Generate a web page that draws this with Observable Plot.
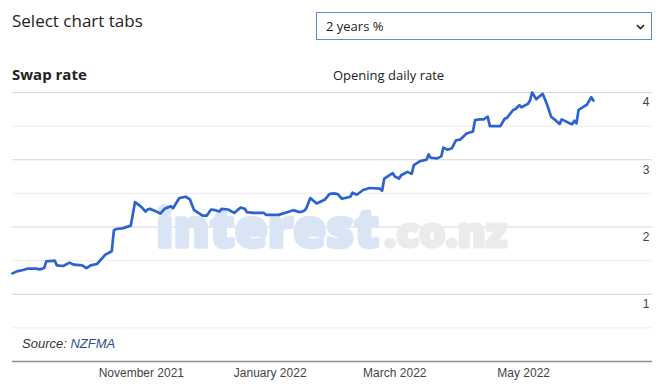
<!DOCTYPE html>
<html>
<head>
<meta charset="utf-8">
<script src="https://cdn.jsdelivr.net/npm/d3@7"></script>
<script src="https://cdn.jsdelivr.net/npm/@observablehq/plot@0.6"></script>
<style>
  body { margin: 0; background: #fff; }
  #wrap { position: relative; width: 662px; height: 390px; overflow: hidden; font-family: "Open Sans", sans-serif; color: #222; }
  #title { position: absolute; left: 12px; top: 9px; font-size: 17px; line-height: 24px; white-space: nowrap; }
  #select { position: absolute; left: 316px; top: 12px; width: 336px; height: 28px; box-sizing: border-box; border: 1px solid #5a8ad6; background: #fff; }
  #select span { position: absolute; left: 9px; top: 5px; font-size: 13px; line-height: 16px; color: #222; }
  #select svg { position: absolute; right: 6px; top: 11px; }
  #sub1 { position: absolute; left: 12px; top: 64px; font-size: 15px; font-weight: 700; line-height: 20px; white-space: nowrap; }
  #sub2 { position: absolute; left: 333px; top: 65px; font-size: 13px; line-height: 20px; white-space: nowrap; }
  #chart { position: absolute; left: 0; top: 84px; }
  #source { position: absolute; left: 22px; top: 335px; font-family: "Liberation Sans", Arial, sans-serif; font-style: italic; font-size: 13px; line-height: 18px; color: #333; }
  #source b { font-weight: normal; color: #2c4f8c; }
  .wm { text-anchor: start; font-family: "Open Sans", sans-serif; font-weight: 800; stroke-linejoin: round; paint-order: stroke; }
</style>
</head>
<body>
<div id="wrap">
  <div id="title">Select chart tabs</div>
  <div id="select"><span>2 years %</span><svg width="9" height="6"><path d="M1 1 L4.5 4.5 L8 1" fill="none" stroke="#222" stroke-width="1.6"/></svg></div>
  <div id="sub1">Swap rate</div>
  <div id="sub2">Opening daily rate</div>
  <div id="chart"></div>
  <div id="source">Source: <b>NZFMA</b></div>
</div>
<script>
// ---- data ----
const dates = [
  "2021-09-01","2021-09-03","2021-09-06","2021-09-08","2021-09-12","2021-09-14","2021-09-16","2021-09-17","2021-09-21","2021-09-22","2021-09-25","2021-09-28","2021-09-30",
  "2021-10-04","2021-10-06","2021-10-08","2021-10-11","2021-10-15","2021-10-18","2021-10-19","2021-10-20","2021-10-23","2021-10-27","2021-10-29",
  "2021-11-01","2021-11-03","2021-11-04","2021-11-05","2021-11-08","2021-11-10","2021-11-12","2021-11-15","2021-11-16","2021-11-19","2021-11-22","2021-11-24","2021-11-26","2021-11-28","2021-11-30",
  "2021-12-02","2021-12-04","2021-12-06","2021-12-08","2021-12-09","2021-12-12","2021-12-15","2021-12-18","2021-12-20","2021-12-21","2021-12-24","2021-12-29","2021-12-30",
  "2022-01-05","2022-01-09","2022-01-12","2022-01-13","2022-01-15","2022-01-17","2022-01-18","2022-01-20","2022-01-23","2022-01-27","2022-01-29","2022-01-31",
  "2022-02-02","2022-02-04","2022-02-08","2022-02-09","2022-02-11","2022-02-14","2022-02-17","2022-02-22","2022-02-23","2022-02-24","2022-02-28",
  "2022-03-01","2022-03-03","2022-03-04","2022-03-07","2022-03-09","2022-03-10","2022-03-13","2022-03-16","2022-03-17","2022-03-18","2022-03-21","2022-03-23","2022-03-24","2022-03-26","2022-03-28","2022-03-30",
  "2022-04-01","2022-04-04","2022-04-07","2022-04-08","2022-04-10","2022-04-12","2022-04-14","2022-04-15","2022-04-20","2022-04-22","2022-04-23","2022-04-26","2022-04-27","2022-04-29","2022-04-30",
  "2022-05-03","2022-05-04","2022-05-05","2022-05-07","2022-05-08","2022-05-10","2022-05-12","2022-05-14","2022-05-16","2022-05-18","2022-05-19","2022-05-23","2022-05-24","2022-05-25","2022-05-26","2022-05-27","2022-05-30","2022-05-31",
  "2022-06-02","2022-06-03"
];
const swapRate = [
  1.31,1.34,1.36,1.38,1.38,1.37,1.39,1.49,1.50,1.43,1.42,1.47,1.44,
  1.43,1.39,1.43,1.45,1.59,1.64,1.95,1.97,1.98,2.02,2.37,
  2.30,2.23,2.26,2.27,2.23,2.20,2.27,2.31,2.28,2.43,2.45,2.41,2.25,2.21,2.17,
  2.17,2.26,2.25,2.23,2.27,2.26,2.21,2.29,2.27,2.22,2.21,2.21,2.18,
  2.18,2.22,2.25,2.24,2.22,2.24,2.27,2.43,2.35,2.41,2.49,2.50,
  2.49,2.42,2.45,2.51,2.48,2.55,2.58,2.57,2.54,2.72,2.80,
  2.75,2.72,2.77,2.82,2.79,2.92,2.98,3.00,3.08,3.03,3.02,3.05,3.18,3.15,3.17,3.29,
  3.30,3.39,3.42,3.59,3.60,3.60,3.64,3.50,3.50,3.61,3.62,3.74,3.75,3.81,3.78,
  3.83,3.88,4.00,3.90,3.93,3.98,3.83,3.64,3.59,3.53,3.60,3.54,3.53,3.58,3.54,3.74,3.80,3.82,
  3.93,3.88
];
const xDomain = ["2021-09-01", "2022-07-01"];
const xTickDates = ["2021-11-01", "2022-01-01", "2022-03-01", "2022-05-01"];
const xTickLabels = ["November 2021", "January 2022", "March 2022", "May 2022"];
const yTickValues = [1, 2, 3, 4];
const yTickLabels = ["1", "2", "3", "4"];
const yMinorGrid = [0.5, 1.5, 2.5, 3.5];
const yDomain = [0, 4];

// ---- build ----
const parse = d3.utcParse("%Y-%m-%d");
const data = dates.map((d, i) => ({date: parse(d), value: swapRate[i]}));
const xTicks = xTickDates.map(parse);

const chart = Plot.plot({
  width: 662,
  height: 306,
  marginTop: 8,
  marginBottom: 29,
  marginLeft: 12,
  marginRight: 10,
  style: {fontFamily: "'Liberation Sans', Arial, sans-serif", fontSize: "12px", color: "#444", background: "transparent"},
  x: {type: "utc", domain: xDomain.map(parse), label: null},
  y: {domain: yDomain, axis: null},
  marks: [
    Plot.ruleY(yMinorGrid, {stroke: "#ededed", strokeWidth: 1}),
    Plot.ruleY(yTickValues, {stroke: "#d6d6d6", strokeWidth: 1}),
    Plot.ruleY([0], {stroke: "#8f8f8f", strokeWidth: 1.6}),
    Plot.line(data, {x: "date", y: "value", stroke: "#2c63cf", strokeWidth: 2.7, strokeLinejoin: "round"}),
    Plot.text(yTickValues, {y: d => d, text: (d, i) => yTickLabels[i], frameAnchor: "right", textAnchor: "end", dx: -3, dy: 10, fill: "#444", fontSize: 12}),
    Plot.axisX({
      ticks: xTicks,
      tickSize: 0,
      tickPadding: 7,
      label: null,
      fill: "#444",
      fontSize: 12,
      tickFormat: d => xTickLabels[xTicks.findIndex(t => +t === +d)]
    })
  ]
});
document.getElementById("chart").appendChild(chart);

// watermark behind the line
const svg = d3.select(chart);
const lineG = chart.querySelector("g[aria-label='line']");
const wm = svg.insert("g", () => lineG).attr("aria-label", "watermark");
wm.append("text").attr("class", "wm")
  .attr("x", 156).attr("y", 163)
  .style("font-size", "53px")
  .attr("textLength", 223).attr("lengthAdjust", "spacingAndGlyphs")
  .attr("fill", "#d9e5f5").attr("stroke", "#d9e5f5").attr("stroke-width", 3.5)
  .text("interest");
wm.append("text").attr("class", "wm")
  .attr("x", 384).attr("y", 163)
  .style("font-size", "40px")
  .attr("textLength", 123).attr("lengthAdjust", "spacingAndGlyphs")
  .attr("fill", "#ebebeb").attr("stroke", "#ebebeb").attr("stroke-width", 3)
  .text(".co.nz");
</script>
</body>
</html>
